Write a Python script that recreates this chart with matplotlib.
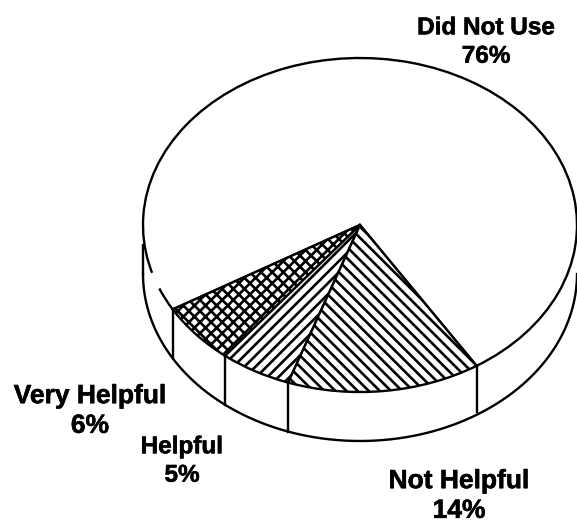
"""Survey pie drawn as a tilted disc with a side wall."""
import numpy as np
import matplotlib
matplotlib.use("Agg")
import matplotlib.pyplot as plt
import matplotlib.patheffects as pe

labels = ["Did Not Use\n76%", "Very Helpful\n6%", "Helpful\n5%", "Not Helpful\n14%"]
# slice shares (printed labels sum to 101)
values = [74.4, 5.9, 5.3, 14.4]
hatches = ["", "xxx", "///", "\\\\\\"]

WIDTH, HEIGHT = 577, 522
CX, CY = 360, 225   # disc centre, pixels
RX, RY = 217, 167   # disc radii, pixels
DEPTH = 49 / RY     # wall height in axes units
START = -57.5
LW = 1.7

# label anchors in pixels, and sizes
label_pos = [(486, 42), (90, 411), (182, 461), (459, 496)]
label_size = [17.5, 19, 17.5, 19]

plt.rcParams["font.family"] = ["Liberation Sans", "DejaVu Sans"]
plt.rcParams["hatch.linewidth"] = 1.9

fig = plt.figure(figsize=(WIDTH / 100, HEIGHT / 100), dpi=100)
ax = fig.add_axes([0, 0, 1, 1])

ax.pie(values, startangle=START, radius=1, hatch=hatches, colors=["white"] * 4,
       wedgeprops={"edgecolor": "black", "linewidth": LW})

# stretch the unit pie into the tilted ellipse
ax.set_aspect("auto")
ax.set_xlim(-CX / RX, (WIDTH - CX) / RX)
ax.set_ylim((CY - HEIGHT) / RY, CY / RY)

# small break in the top rim on the left
t = np.radians(np.linspace(197.5, 201.5, 20))
ax.plot(np.cos(t), np.sin(t), color="white", lw=LW + 2, zorder=5)

# wall: lower rim plus a vertical line at each slice boundary
t = np.radians(np.linspace(-180, 0, 300))
ax.plot(np.cos(t), np.sin(t) - DEPTH, color="black", lw=LW)
ax.plot([-1, -1], [-DEPTH, -20 / RY], color="black", lw=LW)
edges = START + np.cumsum(values) / np.sum(values) * 360
for a in np.radians(edges[:-1]):
    ax.plot([np.cos(a)] * 2, [np.sin(a), np.sin(a) - DEPTH], color="black", lw=LW)
a = np.radians(START)
ax.plot([np.cos(a)] * 2, [np.sin(a), np.sin(a) - DEPTH * 0.95], color="black", lw=LW)

for text, (px, py), size in zip(labels, label_pos, label_size):
    ax.text((px - CX) / RX, (CY - py) / RY, text, ha="center", va="center",
            fontsize=size, fontweight="bold", linespacing=1.3, color="black",
            path_effects=[pe.withStroke(linewidth=0.4, foreground="black")])

fig.savefig("out.png", dpi=100, facecolor="white")
